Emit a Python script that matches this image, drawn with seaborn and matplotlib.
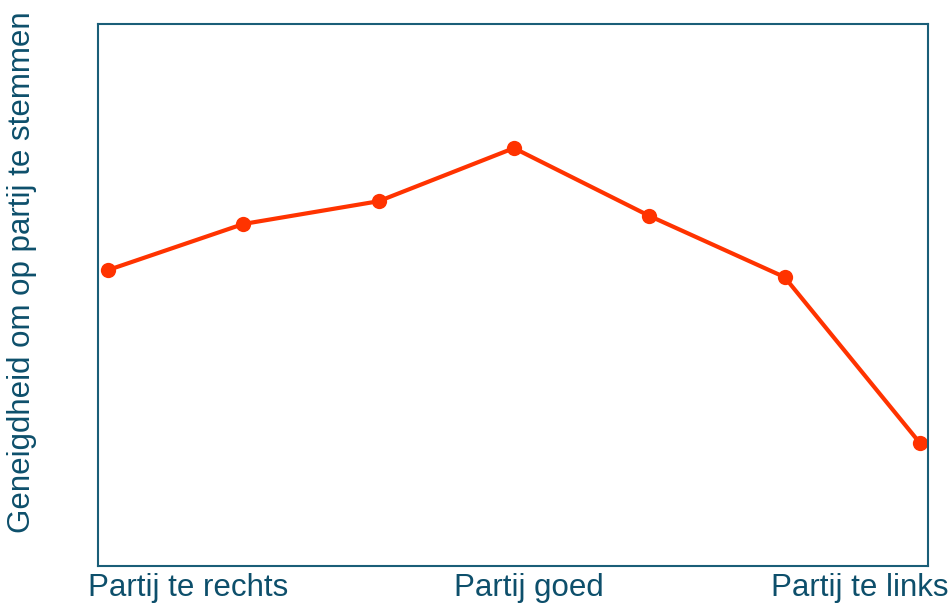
import matplotlib
matplotlib.use("Agg")
import matplotlib.pyplot as plt
import seaborn as sns
import pandas as pd

# positions of the parties on the left-right scale and tendency to vote for them
positie = [0, 1, 2, 3, 4, 5, 6]
geneigdheid = [5.46, 6.31, 6.73, 7.71, 6.46, 5.33, 2.27]
labels = ["Partij te rechts", "Partij goed", "Partij te links"]

LINE = "#ff3300"
AXC = "#1a5e78"
TXT = "#0d4f6b"

sns.set_theme(style="white")
plt.rcParams["font.family"] = ["Liberation Sans", "DejaVu Sans"]

df = pd.DataFrame({"positie": positie, "geneigdheid": geneigdheid})

fig = plt.figure(figsize=(9.5, 6.03), dpi=100)
ax = fig.add_axes([0.1032, 0.0614, 0.8736, 0.8988])

sns.lineplot(data=df, x="positie", y="geneigdheid", ax=ax, color=LINE,
             linewidth=3, marker="o", markersize=11, markeredgewidth=0)

ax.set_xlim(-0.074, 6.06)
ax.set_ylim(0, 10)
ax.set_xticks([])
ax.set_yticks([])
ax.set_xlabel("")
ax.set_ylabel("")
for s in ax.spines.values():
    s.set_color(AXC)
    s.set_linewidth(1.5)

fs = 22.5
fig.text(0.093, 0.012, labels[0], ha="left", va="baseline", fontsize=fs, color=TXT)
fig.text(0.557, 0.012, labels[1], ha="center", va="baseline", fontsize=fs, color=TXT)
fig.text(0.998, 0.012, labels[2], ha="right", va="baseline", fontsize=fs, color=TXT)
fig.text(0.023, 0.549, "Geneigdheid om op partij te stemmen", rotation=90,
         ha="center", va="center", fontsize=fs, color=TXT)

fig.savefig("out.png", dpi=100)
